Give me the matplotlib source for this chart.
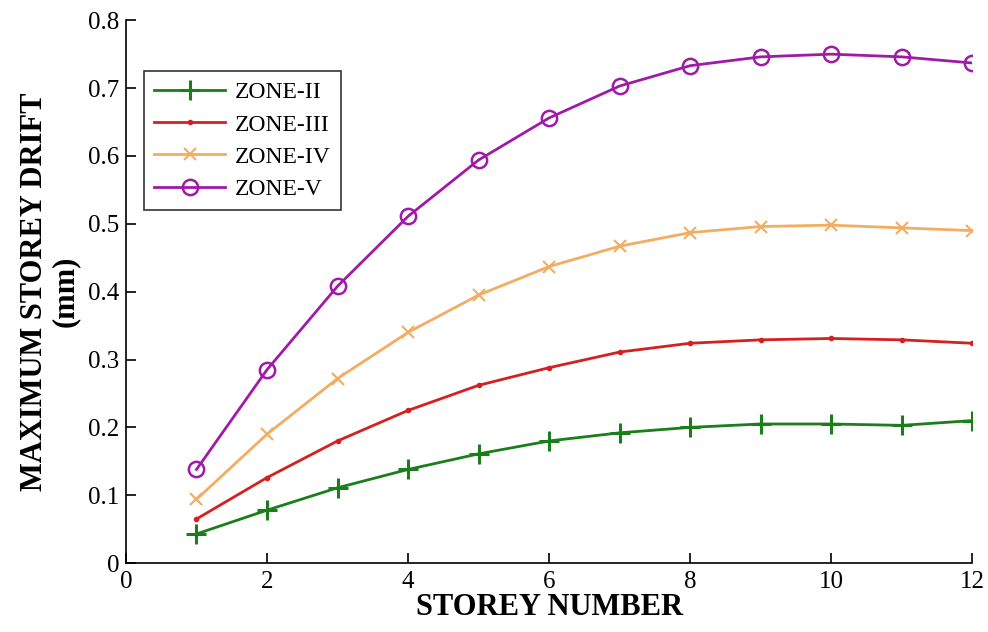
import numpy as np
import matplotlib.pyplot as plt

storey = [1, 2, 3, 4, 5, 6, 7, 8, 9, 10, 11, 12]

zone_2 = [0.043, 0.078, 0.111, 0.138, 0.161, 0.180, 0.192, 0.200, 0.205, 0.205, 0.203, 0.210]
zone_3 = [0.065, 0.126, 0.180, 0.225, 0.262, 0.288, 0.311, 0.324, 0.329, 0.331, 0.329, 0.324]
zone_4 = [0.094, 0.190, 0.272, 0.340, 0.395, 0.437, 0.467, 0.487, 0.496, 0.498, 0.494, 0.490]
zone_5 = [0.138, 0.285, 0.408, 0.511, 0.594, 0.656, 0.703, 0.733, 0.746, 0.750, 0.746, 0.737]

labels = ['ZONE-II', 'ZONE-III', 'ZONE-IV', 'ZONE-V']

plt.rcParams['font.family'] = ['Liberation Serif', 'DejaVu Serif']

fig = plt.figure(figsize=(9.88, 6.32), dpi=100)
ax = fig.add_axes([0.1275, 0.109, 0.8565, 0.859])

ax.plot(storey, zone_2, color='#1a7f1a', lw=2, marker='+', ms=14, mew=2.2, label=labels[0])
ax.plot(storey, zone_3, color='#d42020', lw=2, marker='.', ms=6, label=labels[1])
ax.plot(storey, zone_4, color='#f2ad62', lw=2, marker='x', ms=9, mew=1.5, label=labels[2])
ax.plot(storey, zone_5, color='#a01aa8', lw=2, marker='o', ms=11, mfc='none', mew=1.8, label=labels[3])

ax.set_xlim(0, 12)
ax.set_ylim(0, 0.8)
ax.set_xticks([0, 2, 4, 6, 8, 10, 12])
ax.set_yticks(np.arange(0, 0.81, 0.1))
ax.set_yticklabels(['0', '0.1', '0.2', '0.3', '0.4', '0.5', '0.6', '0.7', '0.8'])

ax.spines['top'].set_visible(False)
ax.spines['right'].set_visible(False)
ax.spines['left'].set_linewidth(1.2)
ax.spines['bottom'].set_linewidth(1.2)
ax.tick_params(direction='in', length=7, width=1.2, labelsize=18)
ax.tick_params(axis='x', pad=6)
ax.tick_params(axis='y', pad=5)

ax.set_xlabel('STOREY NUMBER', fontsize=22, fontweight='bold', labelpad=0)
ax.set_ylabel('MAXIMUM STOREY DRIFT\n(mm)', fontsize=22, fontweight='bold', labelpad=6,
              linespacing=1.05)

leg = ax.legend(loc='upper left', bbox_to_anchor=(0.021, 0.906), fontsize=17,
                handlelength=3.0, handletextpad=0.4, frameon=True, fancybox=False,
                borderpad=0.45, labelspacing=0.45, borderaxespad=0)
leg.get_frame().set_edgecolor('black')
leg.get_frame().set_linewidth(1.2)

fig.savefig('out.png', dpi=100)
